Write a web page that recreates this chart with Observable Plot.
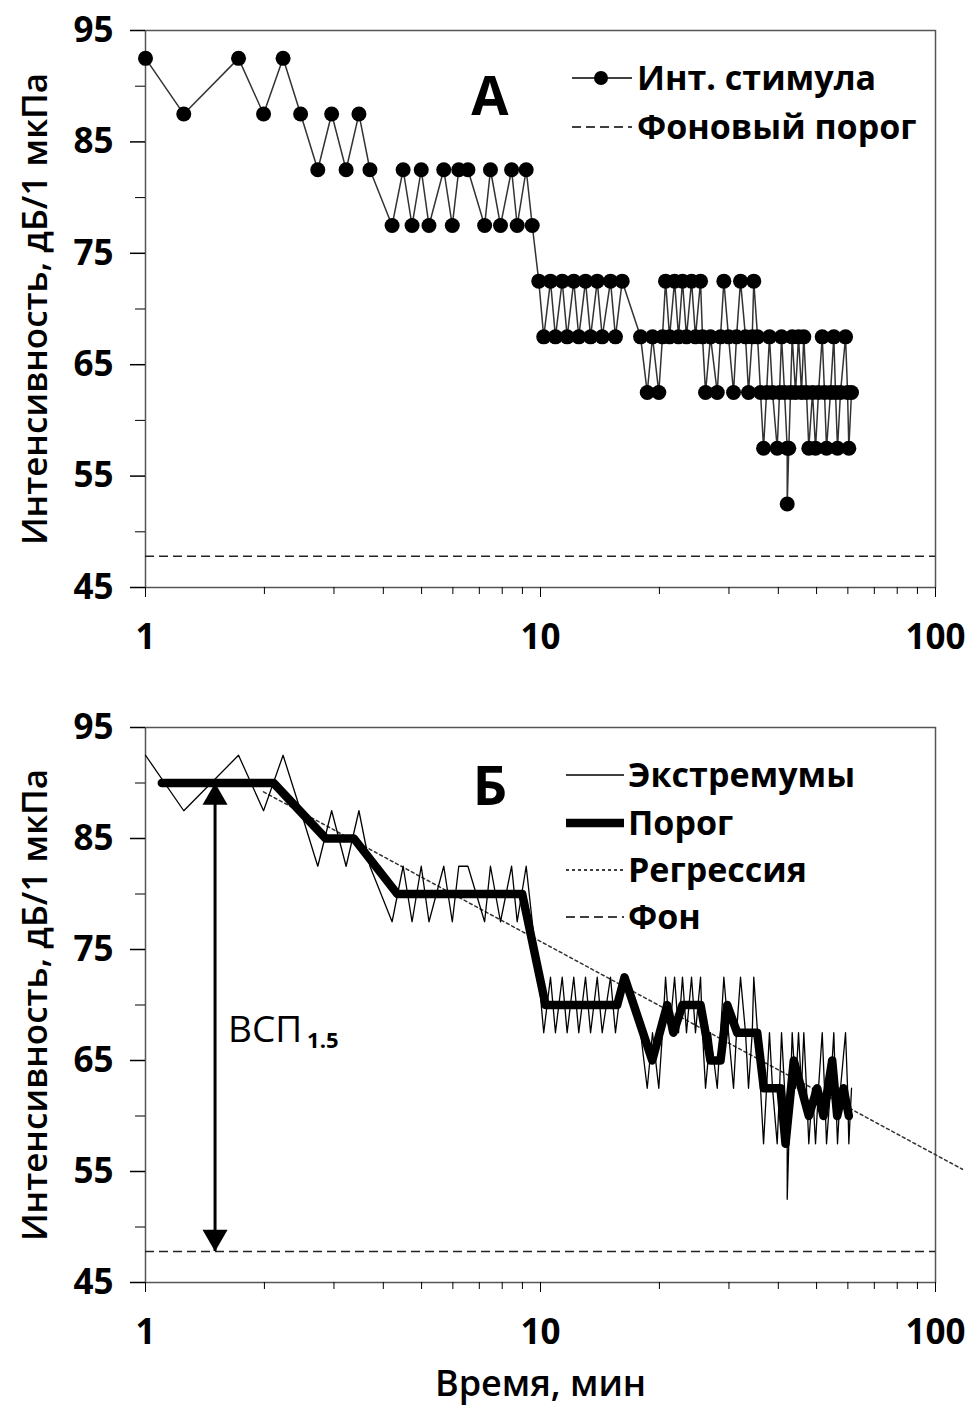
<!DOCTYPE html>
<html><head><meta charset="utf-8">
<script src="https://cdn.jsdelivr.net/npm/d3@7"></script>
<script src="https://cdn.jsdelivr.net/npm/@observablehq/plot@0.6"></script>
<style>
body{margin:0;background:#fff;}
#wrap{position:relative;width:971px;height:1416px;font-family:"Open Sans",sans-serif;}
#wrap svg{display:block}
#overlay{position:absolute;left:0;top:0;pointer-events:none}
</style></head><body><div id="wrap"></div>
<script>
// ---- data ----
const stimTime = [
  1.00,1.25,1.72,1.99,2.23,2.47,2.73,2.96,3.22,3.47,3.70,4.21,4.49,4.73,4.99,5.22,5.69,5.98,6.21,6.55,7.22,7.47,7.92,8.45,8.73,9.20,9.53,
  9.90,10.19,10.60,10.91,11.35,11.68,12.14,12.50,13.00,13.39,13.92,14.33,15.04,15.48,16.10,17.92,
  18.63,19.21,19.93,20.36,20.73,21.22,21.85,22.36,22.88,23.42,24.12,24.68,25.42,25.71,26.17,26.94,28.02,28.56,29.12,29.92,
  30.81,31.35,32.09,33.04,33.62,34.36,34.67,35.44,36.06,36.70,37.35,37.99,38.67,39.74,40.29,40.76,41.48,42.13,42.13,42.52,
  42.95,43.37,44.22,45.00,45.79,46.41,47.14,47.78,48.83,49.69,50.56,51.67,52.36,52.98,54.23,55.28,55.83,56.48,57.48,59.19,
  59.89,60.34,61.29
];
const stimLevel = [
  92.5,87.5,92.5,87.5,92.5,87.5,82.5,87.5,82.5,87.5,82.5,77.5,82.5,77.5,82.5,77.5,82.5,77.5,82.5,82.5,77.5,82.5,77.5,82.5,77.5,82.5,77.5,
  72.5,67.5,72.5,67.5,72.5,67.5,72.5,67.5,72.5,67.5,72.5,67.5,72.5,67.5,72.5,67.5,
  62.5,67.5,62.5,67.5,72.5,67.5,72.5,67.5,72.5,67.5,72.5,67.5,72.5,67.5,62.5,67.5,62.5,67.5,72.5,67.5,
  62.5,67.5,72.5,67.5,62.5,67.5,72.5,67.5,62.5,57.5,62.5,67.5,62.5,57.5,62.5,67.5,62.5,57.5,52.5,57.5,
  62.5,67.5,62.5,67.5,62.5,67.5,62.5,57.5,62.5,57.5,62.5,67.5,62.5,57.5,62.5,67.5,62.5,57.5,62.5,67.5,
  62.5,57.5,62.5
];
const thrTime  = [1.10,2.11,2.86,3.37,4.34,8.99,10.30,15.64,16.32,19.18,20.93,21.71,22.88,25.42,26.94,28.56,29.70,31.48,35.37,36.76,40.52,41.72,43.78,47.78,50.17,52.05,54.76,56.38,58.50,60.34];
const thrLevel = [90,90,85,85,80,80,70,70,72.5,65,70,67.5,70,70,65,65,70,67.5,67.5,62.5,62.5,57.5,65,60,62.5,60,65,60,62.5,60];
const regTime  = [1.99, 117];
const regLevel = [89.2, 55.2];
const bgLevel = 47.8;
const vspTime = 1.5;
const vspTop = 90;
const yTicks = [45,55,65,75,85,95];
const yMinor = [50,60,70,80,90];
const xTicks = [1,10,100];
const xMinor = [2,3,4,5,6,7,8,9,20,30,40,50,60,70,80,90];
const yLabel = "Интенсивность, дБ/1 мкПа";
const xLabel = "Время, мин";
const legendA = ["Инт. стимула","Фоновый порог"];
const legendB = ["Экстремумы","Порог","Регрессия","Фон"];

const stim = stimTime.map((t,i)=>({t, v: stimLevel[i]}));
const thr  = thrTime.map((t,i)=>({t, v: thrLevel[i]}));
const reg  = regTime.map((t,i)=>({t, v: regLevel[i]}));

const FONT = "Open Sans";
function axes(){
  return [
    Plot.frame({stroke:"#555", strokeWidth:1.5}),
    Plot.axisY(yMinor, {tickSize:10, tickFormat:()=>"", label:null}),
    Plot.axisY(yTicks, {tickSize:15, tickPadding:17, fontSize:35, fontWeight:"bold", tickFormat:d=>String(d), label:null, strokeWidth:1.5}),
    Plot.axisX(xMinor, {tickSize:7, tickFormat:()=>"", label:null}),
    Plot.axisX(xTicks, {tickSize:10, tickPadding:27, fontSize:35, fontWeight:"bold", tickFormat:d=>String(d), label:null}),
    Plot.text([yLabel], {frameAnchor:"left", textAnchor:"middle", dx:-110, rotate:-90, fontSize:35, fontWeight:600, text:d=>d})
  ];
}
const common = {width:971, marginLeft:145, marginRight:36,
  x:{type:"log", domain:[1,100]}, y:{domain:[45,95]},
  style:{fontFamily:FONT, color:"#000", background:"#fff", overflow:"visible"}};

const chartA = Plot.plot({...common, height:670, marginTop:30, marginBottom:83,
  marks:[
    ...axes(),
    Plot.ruleY([bgLevel], {stroke:"#222", strokeWidth:1.5, strokeDasharray:"9,5"}),
    Plot.line(stim, {x:"t", y:"v", stroke:"#333", strokeWidth:1.5}),
    Plot.dot(stim, {x:"t", y:"v", r:7.5, fill:"#000"})
  ]});

const chartB = Plot.plot({...common, height:746, marginTop:57, marginBottom:134,
  marks:[
    ...axes(),
    Plot.ruleY([bgLevel], {stroke:"#222", strokeWidth:1.5, strokeDasharray:"9,5"}),
    Plot.line(reg, {x:"t", y:"v", stroke:"#333", strokeWidth:1.5, strokeDasharray:"3,3"}),
    Plot.line(stim, {x:"t", y:"v", stroke:"#000", strokeWidth:1.3}),
    Plot.line(thr, {x:"t", y:"v", stroke:"#000", strokeWidth:8.5, strokeLinejoin:"round"}),
    Plot.ruleX([vspTime], {y1:bgLevel, y2:vspTop, stroke:"#000", strokeWidth:3}),
    Plot.dot([vspTop], {x:()=>vspTime, y:d=>d, symbol:"triangle", r:9.3, fill:"#000", dy:14.4}),
    Plot.dot([bgLevel], {x:()=>vspTime, y:d=>d, symbol:"triangle", r:9.3, fill:"#000", rotate:180, dy:-14.4}),
    Plot.text(["ВСП"], {x:()=>vspTime, y:()=>67.7, text:d=>d, textAnchor:"start", dx:13, fontSize:37}),
    Plot.text(["1.5"], {x:()=>vspTime, y:()=>67.7, text:d=>d, textAnchor:"start", dx:92, dy:10, fontSize:22, fontWeight:"bold"}),
    Plot.text([xLabel], {frameAnchor:"bottom", dy:113, fontSize:36, fontWeight:600, text:d=>d})
  ]});

const wrap = document.getElementById("wrap");
wrap.appendChild(chartA);
wrap.appendChild(chartB);

// legends and panel letters
const ov = d3.select(wrap).append("svg").attr("id","overlay").attr("width",971).attr("height",1416)
  .style("font-family", FONT);
function letter(txt, x, y){ ov.append("text").attr("x",x).attr("y",y).attr("text-anchor","middle")
  .attr("font-size",54).attr("font-weight","bold").text(txt); }
letter("А", 490, 115);
letter("Б", 490, 805);
function legText(txt, x, y){ ov.append("text").attr("x",x).attr("y",y+12).attr("font-size",34).attr("font-weight","bold").text(txt); }
// legend A
ov.append("line").attr("x1",572).attr("x2",632).attr("y1",78).attr("y2",78).attr("stroke","#000").attr("stroke-width",1.5);
ov.append("circle").attr("cx",601).attr("cy",78).attr("r",7).attr("fill","#000");
legText(legendA[0], 637, 78);
ov.append("line").attr("x1",572).attr("x2",632).attr("y1",127).attr("y2",127).attr("stroke","#000").attr("stroke-width",1.5).attr("stroke-dasharray","9,5");
legText(legendA[1], 637, 127);
// legend B
const by = [775, 823, 870, 917];
const bstyle = [{w:1.3,d:null},{w:8.5,d:null},{w:1.5,d:"3,3"},{w:1.5,d:"9,5"}];
legendB.forEach((s,i)=>{
  const l = ov.append("line").attr("x1",566).attr("x2",624).attr("y1",by[i]).attr("y2",by[i])
    .attr("stroke","#000").attr("stroke-width",bstyle[i].w);
  if (bstyle[i].d) l.attr("stroke-dasharray", bstyle[i].d);
  legText(s, 628, by[i]);
});
</script></body></html>
